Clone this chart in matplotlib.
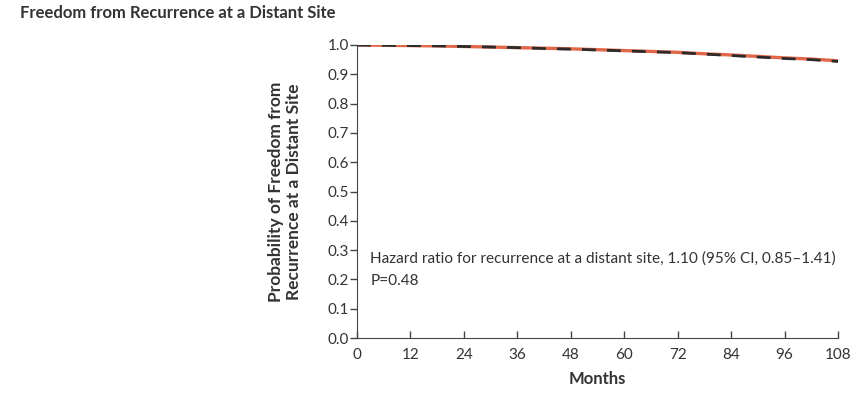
#!/usr/bin/env python3
"""
Kaplan-Meier style curve: freedom from recurrence at a distant site
"""

import matplotlib.pyplot as plt

# months of follow-up and survival estimates for the two groups
months = [0, 6, 12, 18, 24, 30, 36, 42, 48, 54, 60, 66, 72, 78, 84, 90, 96, 102, 108]
group_a = [1.0, 0.999, 0.998, 0.997, 0.995, 0.993, 0.991, 0.989, 0.987, 0.984,
           0.981, 0.978, 0.975, 0.970, 0.966, 0.961, 0.956, 0.952, 0.946]
group_b = [1.0, 0.999, 0.998, 0.997, 0.995, 0.993, 0.991, 0.988, 0.986, 0.983,
           0.980, 0.977, 0.974, 0.969, 0.964, 0.959, 0.954, 0.950, 0.944]

x_ticks = [0, 12, 24, 36, 48, 60, 72, 84, 96, 108]
y_ticks = [0.0, 0.1, 0.2, 0.3, 0.4, 0.5, 0.6, 0.7, 0.8, 0.9, 1.0]

plt.rcParams['font.family'] = ['Lato', 'DejaVu Sans']


def main():
    """
    draw the curve
    """
    fig = plt.figure(figsize=(8.67, 3.95), dpi=100)
    ax = fig.add_axes([357 / 867, 1 - 338 / 395, 481 / 867, 293 / 395])

    ax.plot(months, group_a, color='#e2674a', lw=2.4, solid_capstyle='butt')
    ax.plot(months, group_b, color='#2b2b2b', lw=2.0, dashes=(5, 4))

    ax.set_xlim(0, 108)
    ax.set_ylim(0, 1.0)
    ax.set_xticks(x_ticks)
    ax.set_yticks(y_ticks)
    ax.set_yticklabels(['%.1f' % v for v in y_ticks])
    ax.spines['top'].set_visible(False)
    ax.spines['right'].set_visible(False)
    ax.spines['left'].set_color('#444444')
    ax.spines['bottom'].set_color('#444444')
    ax.tick_params(axis='y', direction='out', length=5, width=1,
                   color='#444444', labelsize=11, labelcolor='#333333', pad=1)
    ax.tick_params(axis='x', direction='in', length=5, width=1,
                   color='#444444', labelsize=11, labelcolor='#333333', pad=7)

    ax.set_xlabel('Months', fontsize=12, fontweight='bold', color='#333333',
                  labelpad=7)
    ax.set_ylabel('Probability of Freedom from\nRecurrence at a Distant Site',
                  fontsize=12.5, fontweight='bold', color='#333333', labelpad=18)

    ax.text(3, 0.27,
            'Hazard ratio for recurrence at a distant site, 1.10 (95% CI, 0.85\u20131.41)',
            fontsize=11.1, color='#333333', va='center', clip_on=False)
    ax.text(3, 0.195, 'P=0.48', fontsize=11.1, color='#333333', va='center')

    fig.text(20 / 867, 1 - 13 / 395, 'Freedom from Recurrence at a Distant Site',
             fontsize=12, fontweight='bold', color='#333333', va='center')

    fig.savefig('out.png', dpi=100)


if __name__ == "__main__":
    main()
